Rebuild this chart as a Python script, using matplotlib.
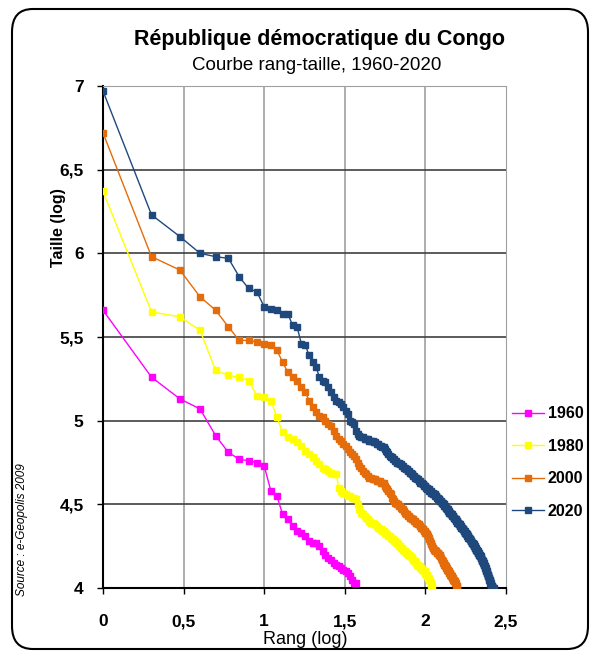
import numpy as np
import matplotlib.pyplot as plt
from matplotlib.patches import FancyBboxPatch
from matplotlib.ticker import FuncFormatter

plt.rcParams['font.family'] = ['Liberation Sans', 'DejaVu Sans']

# log10 of city size, sorted by rank (rank 1 first)
y1960 = [5.66, 5.26, 5.13, 5.07, 4.91, 4.81, 4.77, 4.76, 4.75, 4.73,
         4.58, 4.55, 4.44, 4.41, 4.37, 4.34, 4.33, 4.31, 4.28, 4.27,
         4.27, 4.25, 4.22, 4.20, 4.18, 4.17, 4.15, 4.14, 4.13, 4.12,
         4.11, 4.10, 4.09, 4.07, 4.05, 4.03, 4.03]

y1980 = [6.37, 5.65, 5.62, 5.54, 5.30, 5.27, 5.26, 5.24, 5.15, 5.14,
         5.12, 5.02, 4.93, 4.90, 4.89, 4.87, 4.85, 4.82, 4.80, 4.78,
         4.76, 4.74, 4.72, 4.71, 4.70, 4.69, 4.68, 4.68, 4.60, 4.58,
         4.57, 4.56, 4.55, 4.55, 4.54, 4.54, 4.53, 4.50, 4.47, 4.45,
         4.44, 4.43, 4.42, 4.41, 4.40, 4.39, 4.39, 4.38, 4.38, 4.37,
         4.36, 4.35, 4.35, 4.34, 4.34, 4.33, 4.32, 4.32, 4.31, 4.31,
         4.30, 4.29, 4.29, 4.28, 4.28, 4.27, 4.27, 4.26, 4.25, 4.25,
         4.24, 4.24, 4.23, 4.22, 4.22, 4.21, 4.21, 4.20, 4.20, 4.19,
         4.19, 4.18, 4.18, 4.17, 4.16, 4.16, 4.15, 4.15, 4.14, 4.14,
         4.13, 4.13, 4.12, 4.12, 4.11, 4.11, 4.11, 4.10, 4.10, 4.09,
         4.08, 4.08, 4.07, 4.06, 4.06, 4.05, 4.04, 4.03, 4.02, 4.01]

y2000 = [6.72, 5.98, 5.90, 5.74, 5.66, 5.56, 5.48, 5.48, 5.47, 5.46,
         5.45, 5.42, 5.35, 5.29, 5.26, 5.24, 5.20, 5.17, 5.12, 5.08,
         5.05, 5.03, 5.02, 5.00, 4.98, 4.97, 4.94, 4.91, 4.89, 4.88,
         4.86, 4.85, 4.83, 4.81, 4.80, 4.79, 4.77, 4.75, 4.73, 4.72,
         4.70, 4.69, 4.68, 4.67, 4.66, 4.66, 4.65, 4.65, 4.65, 4.64,
         4.64, 4.64, 4.63, 4.63, 4.63, 4.61, 4.60, 4.59, 4.58, 4.57,
         4.56, 4.54, 4.53, 4.52, 4.51, 4.51, 4.50, 4.50, 4.49, 4.49,
         4.48, 4.47, 4.47, 4.46, 4.45, 4.44, 4.44, 4.43, 4.43, 4.42,
         4.42, 4.41, 4.41, 4.41, 4.40, 4.40, 4.39, 4.39, 4.39, 4.38,
         4.38, 4.37, 4.37, 4.36, 4.36, 4.35, 4.35, 4.34, 4.34, 4.33,
         4.33, 4.32, 4.32, 4.31, 4.30, 4.29, 4.28, 4.27, 4.26, 4.25,
         4.24, 4.24, 4.23, 4.23, 4.22, 4.22, 4.22, 4.21, 4.21, 4.21,
         4.20, 4.20, 4.20, 4.19, 4.18, 4.17, 4.17, 4.16, 4.15, 4.15,
         4.14, 4.14, 4.13, 4.13, 4.12, 4.12, 4.11, 4.11, 4.10, 4.10,
         4.09, 4.09, 4.08, 4.08, 4.07, 4.07, 4.06, 4.06, 4.05, 4.05,
         4.04, 4.04, 4.03, 4.03, 4.02, 4.01, 4.01]

y2020 = [6.97, 6.23, 6.10, 6.00, 5.98, 5.97, 5.86, 5.79, 5.77, 5.68,
         5.67, 5.66, 5.64, 5.64, 5.57, 5.56, 5.46, 5.45, 5.39, 5.35,
         5.32, 5.26, 5.24, 5.23, 5.20, 5.17, 5.14, 5.12, 5.11, 5.10,
         5.08, 5.06, 5.04, 5.00, 4.99, 4.98, 4.94, 4.92, 4.91, 4.90,
         4.90, 4.89, 4.89, 4.89, 4.88, 4.88, 4.88, 4.87, 4.87, 4.86,
         4.86, 4.85, 4.85, 4.84, 4.84, 4.83, 4.82, 4.81, 4.80, 4.79,
         4.78, 4.78, 4.77, 4.77, 4.76, 4.76, 4.75, 4.75, 4.75, 4.74,
         4.74, 4.73, 4.73, 4.72, 4.72, 4.71, 4.71, 4.70, 4.70, 4.69,
         4.69, 4.68, 4.68, 4.67, 4.67, 4.66, 4.66, 4.66, 4.65, 4.65,
         4.64, 4.64, 4.63, 4.63, 4.63, 4.62, 4.62, 4.61, 4.61, 4.61,
         4.60, 4.60, 4.59, 4.59, 4.59, 4.58, 4.58, 4.58, 4.57, 4.57,
         4.57, 4.56, 4.56, 4.56, 4.55, 4.55, 4.55, 4.54, 4.54, 4.53,
         4.53, 4.53, 4.52, 4.52, 4.52, 4.51, 4.51, 4.51, 4.50, 4.50,
         4.49, 4.49, 4.49, 4.48, 4.48, 4.47, 4.47, 4.47, 4.46, 4.46,
         4.45, 4.45, 4.45, 4.44, 4.44, 4.44, 4.43, 4.43, 4.43, 4.42,
         4.42, 4.41, 4.41, 4.41, 4.40, 4.40, 4.40, 4.39, 4.39, 4.39,
         4.38, 4.38, 4.38, 4.37, 4.37, 4.37, 4.36, 4.36, 4.36, 4.35,
         4.35, 4.35, 4.34, 4.34, 4.34, 4.33, 4.33, 4.33, 4.32, 4.32,
         4.32, 4.31, 4.31, 4.31, 4.30, 4.30, 4.30, 4.29, 4.29, 4.29,
         4.28, 4.28, 4.28, 4.27, 4.27, 4.27, 4.26, 4.26, 4.26, 4.25,
         4.25, 4.25, 4.24, 4.24, 4.24, 4.23, 4.23, 4.23, 4.22, 4.22,
         4.22, 4.21, 4.21, 4.21, 4.20, 4.20, 4.20, 4.19, 4.19, 4.19,
         4.18, 4.18, 4.17, 4.17, 4.17, 4.16, 4.16, 4.16, 4.15, 4.15,
         4.14, 4.14, 4.13, 4.13, 4.12, 4.12, 4.11, 4.11, 4.10, 4.10,
         4.09, 4.09, 4.08, 4.08, 4.07, 4.07, 4.06, 4.06, 4.05, 4.05,
         4.04, 4.04, 4.03, 4.03, 4.02, 4.02, 4.01, 4.01, 4.01, 4.00,
         4.00, 4.00, 4.00, 4.00, 4.00]

years = ["1960", "1980", "2000", "2020"]
series = [y1960, y1980, y2000, y2020]
colors = ["#FF00FF", "#FFFF00", "#E46C0A", "#1F497D"]

fig = plt.figure(figsize=(5.94, 6.57), dpi=100)
ax = fig.add_axes([103/594, 1 - 588/657, (506 - 103)/594, (588 - 86)/657])

for yr, ys, c in zip(years, series, colors):
    x = np.log10(np.arange(1, len(ys) + 1))
    ax.plot(x, ys, color=c, lw=1, marker="s", ms=4.8, mec=c, mfc=c, label=yr, zorder=3)

ax.set_xlim(0, 2.5)
ax.set_ylim(4, 7)
ax.set_xticks(np.arange(0, 2.51, 0.5))
ax.set_yticks(np.arange(4, 7.01, 0.5))
fmt = FuncFormatter(lambda v, p: ("%g" % v).replace(".", ","))
ax.xaxis.set_major_formatter(fmt)
ax.yaxis.set_major_formatter(fmt)
for lab in ax.get_xticklabels() + ax.get_yticklabels():
    lab.set_fontweight("bold")
    lab.set_fontsize(12.5)
ax.tick_params(axis="both", direction="out", length=4, width=1)
ax.tick_params(axis="x", pad=15)
ax.tick_params(axis="y", pad=10)

# grid: grey verticals, dark horizontals
for xv in [0.5, 1, 1.5, 2]:
    ax.axvline(xv, color="#A0A0A0", lw=1.2, zorder=1)
for yv in [4.5, 5, 5.5, 6, 6.5]:
    ax.axhline(yv, color="#404040", lw=1.2, zorder=1)
ax.spines["top"].set_color("#A0A0A0")
ax.spines["right"].set_color("#A0A0A0")
ax.spines["left"].set_linewidth(1.5)
ax.spines["bottom"].set_linewidth(1.5)

fig.text(58/594, 1 - 228/657, "Taille (log)", rotation=90, ha="center", va="center",
         fontsize=11.5, fontweight="bold")
fig.text(305/594, 1 - 640/657, "Rang (log)", ha="center", va="center", fontsize=13)

fig.text(320/594, 1 - 40/657, "République démocratique du Congo", ha="center", va="center",
         fontsize=15.5, fontweight="bold")
fig.text(317/594, 1 - 66/657, "Courbe rang-taille, 1960-2020", ha="center", va="center",
         fontsize=13.5)
fig.text(22/594, 1 - 530/657, "Source : e-Geopolis 2009", rotation=90, ha="center", va="center",
         fontsize=8.5, style="italic")

leg = ax.legend(loc="center left", bbox_to_anchor=(1.0, 0.25), frameon=False,
                prop={"weight": "bold", "size": 11.5}, labelspacing=1.1, handlelength=2.0,
                handletextpad=0.2, borderaxespad=0.3, borderpad=0.1)

border = FancyBboxPatch((12/594, 8/657), 576/594, 640/657, boxstyle="round,pad=0,rounding_size=0.035",
                        transform=fig.transFigure, fill=False, ec="black", lw=1.5)
fig.patches.append(border)

fig.savefig("out.png", dpi=100)
